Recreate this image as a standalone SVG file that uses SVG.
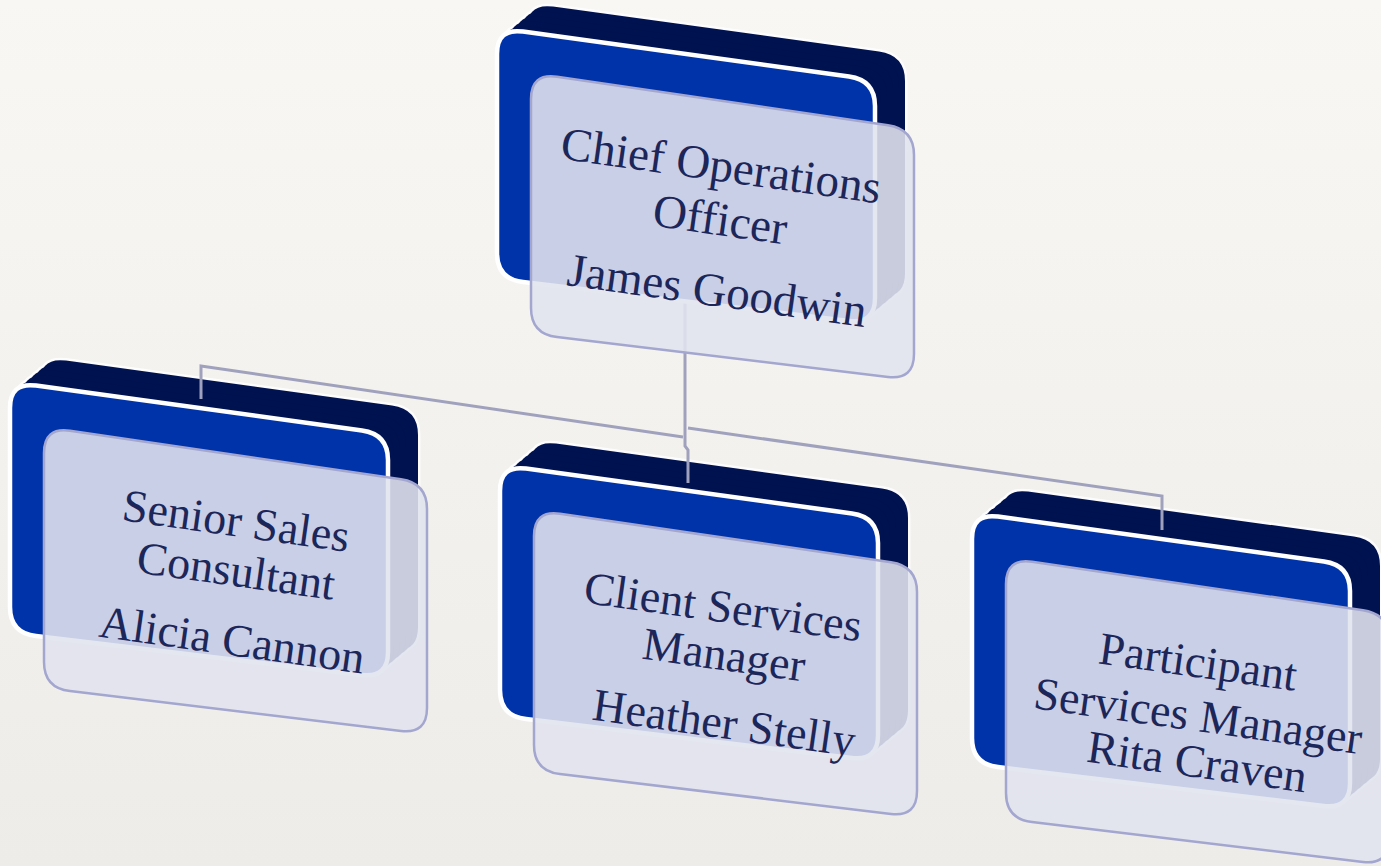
<svg xmlns="http://www.w3.org/2000/svg" xmlns:xlink="http://www.w3.org/1999/xlink" width="1381" height="866" viewBox="0 0 1381 866">
<style>
.halo{fill:#fff;stroke:#fff;stroke-width:5;opacity:.85}
.navy{fill:#001250}
.blue{fill:#0033aa;stroke:#fff;stroke-width:4.5}
.glass{fill:#e1e3ee;fill-opacity:.89;stroke:#a3a6cf;stroke-width:2.5}
.t{font-family:"Liberation Serif","Times New Roman",serif;font-size:46px;fill:#1c2659;text-anchor:middle}
.conn{fill:none;stroke:#a0a2bd;stroke-width:3}
</style>
<defs>
<linearGradient id="bg" x1="0" y1="0" x2="0" y2="1">
<stop offset="0" stop-color="#f9f7f4"/>
<stop offset="1" stop-color="#eeece9"/>
</linearGradient>
<path id="card" d="M26,3.6 L352,48.4 Q378,52 378,78 L378,270 Q378,296 352,292.9 L26,254.1 Q0,251 0,225 L0,26 Q0,0 26,3.6 Z"/>
<path id="glassShape" d="M60,48.8 L391,97.2 Q417,101 417,127 L417,326 Q417,352 391,348.9 L60,309.1 Q34,306 34,280 L34,71 Q34,45 60,48.8 Z"/>
<g id="slab">
<use xlink:href="#card" class="halo" transform="translate(30,-25)"/>
<use xlink:href="#card" class="halo" transform="translate(24,-20)"/>
<use xlink:href="#card" class="halo" transform="translate(18,-15)"/>
<use xlink:href="#card" class="halo" transform="translate(12,-10)"/>
<use xlink:href="#card" class="halo" transform="translate(6,-5)"/>
<use xlink:href="#card" class="navy" transform="translate(30,-25)"/>
<use xlink:href="#card" class="navy" transform="translate(24,-20)"/>
<use xlink:href="#card" class="navy" transform="translate(18,-15)"/>
<use xlink:href="#card" class="navy" transform="translate(12,-10)"/>
<use xlink:href="#card" class="navy" transform="translate(6,-5)"/>
<use xlink:href="#card" class="blue"/>
<use xlink:href="#glassShape" class="glass"/>
</g>
</defs>
<rect width="1381" height="866" fill="url(#bg)"/>

<g id="node-senior-sales">
<use xlink:href="#slab" transform="translate(10,382)"/>
<text class="t" x="234" y="536" transform="rotate(8 234 536)">Senior Sales</text>
<text class="t" x="234" y="586" transform="rotate(8 234 586)">Consultant</text>
<text class="t" x="230" y="655" transform="rotate(8 230 655)">Alicia Cannon</text>
</g>

<g id="node-client-services">
<use xlink:href="#slab" transform="translate(500,465)"/>
<text class="t" x="721" y="622" transform="rotate(8 721 622)">Client Services</text>
<text class="t" x="722" y="670" transform="rotate(8 722 670)">Manager</text>
<text class="t" x="722" y="738" transform="rotate(8 722 738)">Heather Stelly</text>
</g>

<g id="node-participant-services">
<use xlink:href="#slab" transform="translate(972,513)"/>
<text class="t" x="1196" y="677" transform="rotate(8 1196 677)">Participant</text>
<text class="t" x="1196" y="731" transform="rotate(8 1196 731)">Services Manager</text>
<text class="t" x="1195" y="777" transform="rotate(8 1195 777)">Rita Craven</text>
</g>

<g id="connectors">
<path class="conn" d="M685,300 V446 L688,450 V483"/>
<path class="conn" d="M683,437 L201,366 V399"/>
<path class="conn" d="M688,428 L1162,496 V530"/>
</g>

<g id="node-coo">
<use xlink:href="#slab" transform="translate(497,28)"/>
<text class="t" style="font-size:47px" x="719" y="181" transform="rotate(8 719 181)">Chief Operations</text>
<text class="t" style="font-size:47px" x="718" y="235" transform="rotate(8 718 235)">Officer</text>
<text class="t" style="font-size:47px" x="715" y="306" transform="rotate(8 715 306)">James Goodwin</text>
</g>
</svg>
